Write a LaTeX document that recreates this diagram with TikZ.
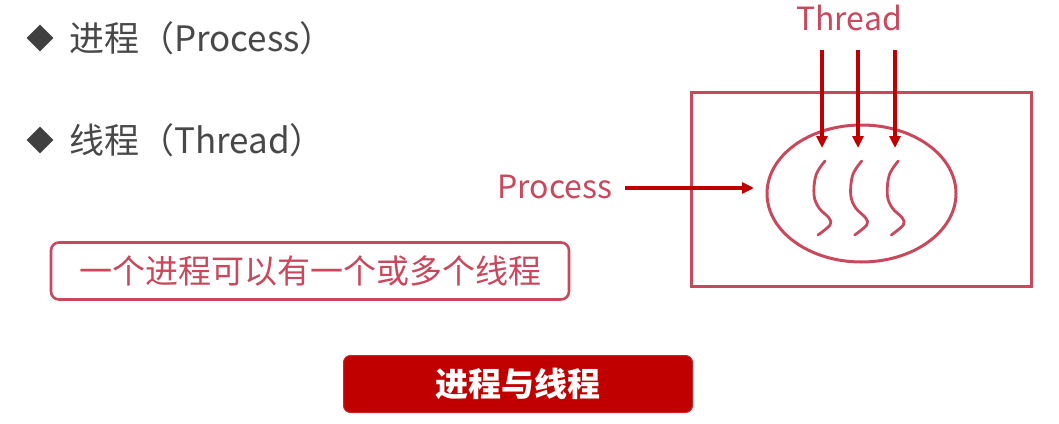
\documentclass[tikz,border=0pt]{standalone}
\usepackage{fontspec}
\setmainfont{Noto Sans CJK SC}
\usetikzlibrary{shapes.geometric,arrows.meta}
\definecolor{rosered}{RGB}{200,72,92}
\definecolor{deepred}{RGB}{192,0,0}
\definecolor{inkgray}{RGB}{72,72,72}
\definecolor{bulletgray}{RGB}{64,64,64}
\begin{document}
\begin{tikzpicture}[x=1pt,y=-1pt,
  bullet/.style={diamond,fill=bulletgray,inner sep=0,minimum width=27pt,minimum height=27pt},
  heading/.style={anchor=west,text=inkgray,font=\fontsize{35}{40}\selectfont,inner sep=0},
  redlabel/.style={text=rosered,font=\fontsize{32}{38}\selectfont,inner sep=0},
  notebox/.style={draw=rosered,line width=2.6pt,rounded corners=8pt,minimum width=518pt,minimum height=57pt,
    text=rosered,font=\fontsize{33}{38}\selectfont},
  titlebox/.style={fill=deepred,draw=deepred!85!white,line width=1pt,rounded corners=7pt,minimum width=349pt,minimum height=57pt,
    text=white,font=\bfseries\fontsize{33}{38}\selectfont},
  frame/.style={draw=rosered,line width=3pt},
  pointer/.style={draw=deepred,line width=3.2pt,-{Triangle[length=12pt,width=11pt]}},
  strand/.style={draw=rosered,line width=2.8pt,line cap=round,line join=round}]
\useasboundingbox (0,0) rectangle (1059,423);

% bullet list
\node[bullet] (b1) at (40,38) {};
\node[heading] (h1) at (69,38) {进程（Process）};
\node[bullet] (b2) at (40,140) {};
\node[heading] (h2) at (69,140) {线程（Thread）};

% note and title
\node[notebox] (note) at (310,271) {一个进程可以有一个或多个线程};
\node[titlebox] (title) at (518,384) {进程与线程};

% process frame and ellipse
\node[frame,rectangle,minimum width=340pt,minimum height=194pt,inner sep=0] (proc) at (861,189) {};
\node[frame,ellipse,minimum width=189pt,minimum height=137pt,inner sep=0] (core) at (861.5,193.5) {};

% thread strands
\foreach \dx in {0,36.7,73.3}{
  \draw[strand,xshift=\dx] plot[smooth,tension=0.6] coordinates
    {(825,161) (816,175) (814,195) (819,208) (829,218) (830,225) (818,235)};
}

% labels and pointers
\node[redlabel] (thr) at (849,18) {Thread};
\node[redlabel] (plabel) at (555,187) {Process};
\coordinate (t1) at (822,50);  \coordinate (t1e) at (822,148);
\coordinate (t2) at (858,50);  \coordinate (t2e) at (858,148);
\coordinate (t3) at (895,50);  \coordinate (t3e) at (895,148);
\coordinate (ps) at (625,188);
\coordinate (pe) at (754,188);
\draw[pointer] (t1) -- (t1e);
\draw[pointer] (t2) -- (t2e);
\draw[pointer] (t3) -- (t3e);
\draw[pointer] (ps) -- (pe);
\end{tikzpicture}
\end{document}
